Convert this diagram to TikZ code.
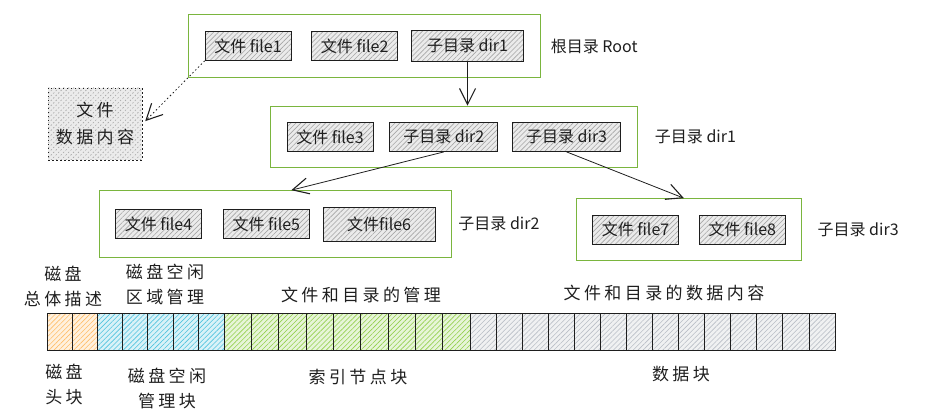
\documentclass[tikz,border=0pt]{standalone}
\usepackage{fontspec}
\newfontfamily\hand{Noto Sans CJK SC}
\newfontfamily\handwide[LetterSpace=20]{Noto Sans CJK SC}
\usetikzlibrary{positioning,fit,arrows.meta,patterns.meta}
\definecolor{grpgreen}{RGB}{122,181,62}
\definecolor{ink}{RGB}{30,30,30}
\definecolor{headcol}{RGB}{255,190,105}
\definecolor{freecol}{RGB}{80,195,222}
\definecolor{inodecol}{RGB}{148,208,78}
\definecolor{datacol}{RGB}{185,190,198}
\colorlet{entrycol}{black!35}
\tikzset{
  link/.style={draw=ink, thick, -{Straight Barb[length=16pt,width=16pt,line width=1.1pt]}},
  hatch/.style={
    preaction={fill=#1!22},
    pattern={Lines[angle=45,distance=3.5pt,line width=0.6pt]},
    pattern color=#1},
  entry/.style={
    rectangle,
    draw=ink, thick,
    hatch=entrycol,
    minimum width=86pt,
    minimum height=29pt,
    text=ink,
    font=\hand\fontsize{16}{18}\selectfont},
  direntry/.style={entry, minimum width=108pt},
  dirgroup/.style={
    rectangle,
    draw=grpgreen, thick,
    inner xsep=16pt,
    inner ysep=16pt},
  grouplabel/.style={text=ink, font=\hand\fontsize{16}{18}\selectfont},
  content/.style={
    rectangle,
    draw=ink, thick, dash pattern=on 1.5pt off 2.5pt,
    hatch=entrycol,
    minimum width=94pt,
    minimum height=72pt,
    align=center,
    text=ink,
    font=\handwide\fontsize{17}{27}\selectfont},
  cell/.style={
    rectangle,
    draw=ink, line width=0.8pt,
    minimum height=37pt,
    inner sep=0pt},
  barlabel/.style={text=ink, align=center, font=\handwide\fontsize{17}{25}\selectfont},
}

\begin{document}
\begin{tikzpicture}
  [x=1pt, y=-1pt,
  node distance=16pt]
  \useasboundingbox (0,0) rectangle (925,414);
  %% root
  \node[entry] (file1) at (248,46) {文件 file1};
  \node[entry, right=20pt of file1] (file2) {文件 file2};
  \node[direntry, right=13pt of file2, minimum width=112pt, minimum height=31pt] (dir1) {子目录 dir1};
  \node[dirgroup, fit=(file1)(file2)(dir1)] (rootgrp) {};
  \node[grouplabel, right=7pt of rootgrp] (rootlbl) {根目录 Root};
  %% dir1
  \node[entry] (file3) at (330,137) {文件 file3};
  \node[direntry, right=16pt of file3] (dir2) {子目录 dir2};
  \node[direntry, right=14pt of dir2] (dir3) {子目录 dir3};
  \node[dirgroup, fit=(file3)(dir2)(dir3)] (dir1grp) {};
  \node[grouplabel, right=14pt of dir1grp] (dir1lbl) {子目录 dir1};
  %% dir2
  \node[entry] (file4) at (158.5,224) {文件 file4};
  \node[entry, right=21pt of file4] (file5) {文件 file5};
  \node[entry, right=13pt of file5, minimum width=112pt, minimum height=34pt] (file6) {文件file6};
  \node[dirgroup, fit=(file4)(file5)(file6)] (dir2grp) {};
  \node[grouplabel, right=3pt of dir2grp] (dir2lbl) {子目录 dir2};
  %% dir3
  \node[entry] (file7) at (635.5,229.5) {文件 file7};
  \node[entry, right=20pt of file7] (file8) {文件 file8};
  \node[dirgroup, fit=(file7)(file8)] (dir3grp) {};
  \node[grouplabel, right=12pt of dir3grp] (dir3lbl) {子目录 dir3};
  % links
  \draw[link] (dir1.south) -- (dir1.south |- dir1grp.north);
  \draw[link] (dir2.south) -- ([xshift=16pt]dir2grp.north);
  \draw[link] (dir3.south) -- ([xshift=-5pt]dir3grp.north);
  % file data
  \node[content] (data) at (95,124) {文件\\数据内容};
  \draw[link, dash pattern=on 1.5pt off 2.5pt, shorten >=4pt] (file1.south west) -- (data.east);
  %% disk layout
  \foreach \i in {0,1}
    \node[cell, hatch=headcol, minimum width=25pt] (head\i) at ({59.5+25*\i},331.5) {};
  \foreach \i in {0,...,4}
    \node[cell, hatch=freecol, minimum width=25.4pt] (free\i) at ({109.7+25.4*\i},331.5) {};
  \foreach \i in {0,...,8}
    \node[cell, hatch=inodecol, minimum width=27.33pt] (inode\i) at ({237.67+27.33*\i},331.5) {};
  \foreach \i in {0,...,13}
    \node[cell, hatch=datacol, minimum width=26.07pt] (block\i) at ({483.04+26.07*\i},331.5) {};
  % labels above
  \node[barlabel] (headtop) at (63,286) {磁盘\\总体描述};
  \node[barlabel] (freetop) at (165,284) {磁盘空闲\\区域管理};
  \node[barlabel] (inodetop) at (361,295) {文件和目录的管理};
  \node[barlabel] (blocktop) at (664,293) {文件和目录的数据内容};
  % labels below
  \node[barlabel] (headbot) at (64,384) {磁盘\\头块};
  \node[barlabel] (freebot) at (167,388) {磁盘空闲\\管理块};
  \node[barlabel] (inodebot) at (358,377) {索引节点块};
  \node[barlabel] (blockbot) at (681,374) {数据块};
\end{tikzpicture}
\end{document}
